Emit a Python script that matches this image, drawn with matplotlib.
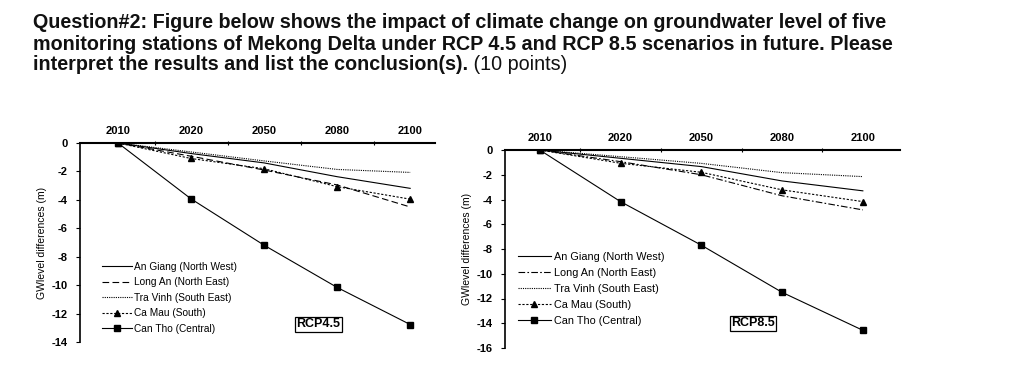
import matplotlib
matplotlib.use("Agg")
import matplotlib.pyplot as plt
from matplotlib import font_manager

# ---------------- data ----------------
years = ["2010", "2020", "2050", "2080", "2100"]
stations = ["An Giang (North West)", "Long An (North East)", "Tra Vinh (South East)",
            "Ca Mau (South)", "Can Tho (Central)"]

rcp45_an_giang = [0, -0.74, -1.40, -2.37, -3.19]
rcp45_long_an = [0, -0.93, -1.90, -2.95, -4.50]
rcp45_tra_vinh = [0, -0.63, -1.26, -1.86, -2.07]
rcp45_ca_mau = [0, -1.09, -1.81, -3.07, -3.95]
rcp45_can_tho = [0, -3.93, -7.19, -10.16, -12.77]

rcp85_an_giang = [0, -0.67, -1.34, -2.50, -3.30]
rcp85_long_an = [0, -0.94, -2.00, -3.70, -4.84]
rcp85_tra_vinh = [0, -0.54, -1.08, -1.83, -2.15]
rcp85_ca_mau = [0, -1.07, -1.80, -3.22, -4.17]
rcp85_can_tho = [0, -4.17, -7.69, -11.50, -14.57]

title_lines = [
    "Question#2: Figure below shows the impact of climate change on groundwater level of five",
    "monitoring stations of Mekong Delta under RCP 4.5 and RCP 8.5 scenarios in future. Please",
    "interpret the results and list the conclusion(s).",
]
title_tail = " (10 points)"

plt.rcParams['font.family'] = ['Liberation Sans', 'DejaVu Sans']
names = {f.name for f in font_manager.fontManager.ttflist}
title_family = ['Liberation Sans Narrow', 'Liberation Sans'] if 'Liberation Sans Narrow' in names \
    else ['Liberation Sans', 'DejaVu Sans']

W, H = 1024, 377
fig = plt.figure(figsize=(W / 100, H / 100), dpi=100)
fig.patch.set_facecolor("white")

# ---------------- title text ----------------
ty = [23, 44, 65]
probe = fig.text(0, 0, title_lines[1], fontsize=10, fontweight="bold", family=title_family)
fig.canvas.draw()
r = fig.canvas.get_renderer()
w10 = probe.get_window_extent(r).width
probe.remove()
tfs = min(10 * (898 - 33) / w10, 14.2)
texts = []
for i, line in enumerate(title_lines):
    t = fig.text(33 / W, 1 - ty[i] / H, line, fontsize=tfs, fontweight="bold",
                 family=title_family, ha="left", va="center", color="#111111")
    texts.append(t)
fig.canvas.draw()
bb = texts[2].get_window_extent(r)
fig.text(bb.x1 / W, 1 - ty[2] / H, title_tail, fontsize=tfs, fontweight="normal",
         family=title_family, ha="left", va="center", color="#111111")

x = list(range(len(years)))


def make_panel(rect, xlim, ymin, ystep, data, long_an_style, label, label_pos,
               leg_anchor, leg_fs, tpad):
    ax = fig.add_axes(rect)
    ag, la, tv, cm, ct = data
    lw = 0.8
    ax.plot(x, ag, color="black", lw=lw, ls="-", label=stations[0])
    ax.plot(x, la, color="black", lw=lw, ls=long_an_style, label=stations[1])
    ax.plot(x, tv, color="black", lw=lw, ls=(0, (1, 1)), label=stations[2])
    ax.plot(x, cm, color="black", lw=lw, ls=(0, (2, 1.5)), marker="^", ms=4,
            label=stations[3])
    ax.plot(x, ct, color="black", lw=lw, ls="-", marker="s", ms=4,
            label=stations[4])
    ax.set_xlim(*xlim)
    ax.set_ylim(ymin, 0)
    ax.xaxis.tick_top()
    ax.set_xticks(x)
    ax.set_xticklabels(years, fontsize=8, fontweight="bold")
    ax.set_xticks([i + 0.5 for i in x[:-1]], minor=True)
    ax.tick_params(axis="x", which="major", length=0, pad=5)
    ax.tick_params(axis="x", which="minor", length=3, direction="inout", width=0.8)
    ax.set_yticks(list(range(0, ymin - 1, -ystep)))
    ax.set_yticklabels([str(v) for v in range(0, ymin - 1, -ystep)], fontsize=8,
                       fontweight="bold")
    ax.tick_params(axis="y", length=3, width=0.8, pad=6)
    for s in ["right", "bottom"]:
        ax.spines[s].set_visible(False)
    ax.spines["top"].set_linewidth(1.5)
    ax.spines["left"].set_linewidth(1.2)
    ax.set_ylabel("GWlevel differences (m)", fontsize=7.5, labelpad=3)
    ax.patch.set_alpha(0)
    ax.text(label_pos[0], label_pos[1], label, transform=ax.transAxes, fontsize=9,
            fontweight="bold", ha="center", va="center",
            bbox=dict(boxstyle="square,pad=0.12", fc="white", ec="black", lw=0.9))
    ax.legend(loc="lower left", bbox_to_anchor=leg_anchor, frameon=False,
              fontsize=leg_fs, handlelength=3.0, handletextpad=tpad,
              labelspacing=0.55, borderpad=0.2, borderaxespad=0)
    return ax


# left panel (RCP4.5)
L0, L1 = 80, 435
top45, bot45 = 143, 342
make_panel([L0 / W, 1 - bot45 / H, (L1 - L0) / W, (bot45 - top45) / H],
           (-0.52, 4.34), -14, 2,
           [rcp45_an_giang, rcp45_long_an, rcp45_tra_vinh, rcp45_ca_mau, rcp45_can_tho],
           (0, (6, 3)), "RCP4.5", ((318 - L0) / (L1 - L0), (bot45 - 324) / (bot45 - top45)),
           ((100 - L0) / (L1 - L0), (bot45 - 336) / (bot45 - top45)), 7.3, 0.2)

# right panel (RCP8.5)
R0, R1 = 505, 900
top85, bot85 = 150, 348
make_panel([R0 / W, 1 - bot85 / H, (R1 - R0) / W, (bot85 - top85) / H],
           (-0.43, 4.46), -16, 2,
           [rcp85_an_giang, rcp85_long_an, rcp85_tra_vinh, rcp85_ca_mau, rcp85_can_tho],
           (0, (6, 2, 1.5, 2)), "RCP8.5",
           ((753 - R0) / (R1 - R0), (bot85 - 323) / (bot85 - top85)),
           ((516 - R0) / (R1 - R0), (bot85 - 328) / (bot85 - top85)), 7.8, 0.3)

fig.savefig("out.png", dpi=100, facecolor="white")
